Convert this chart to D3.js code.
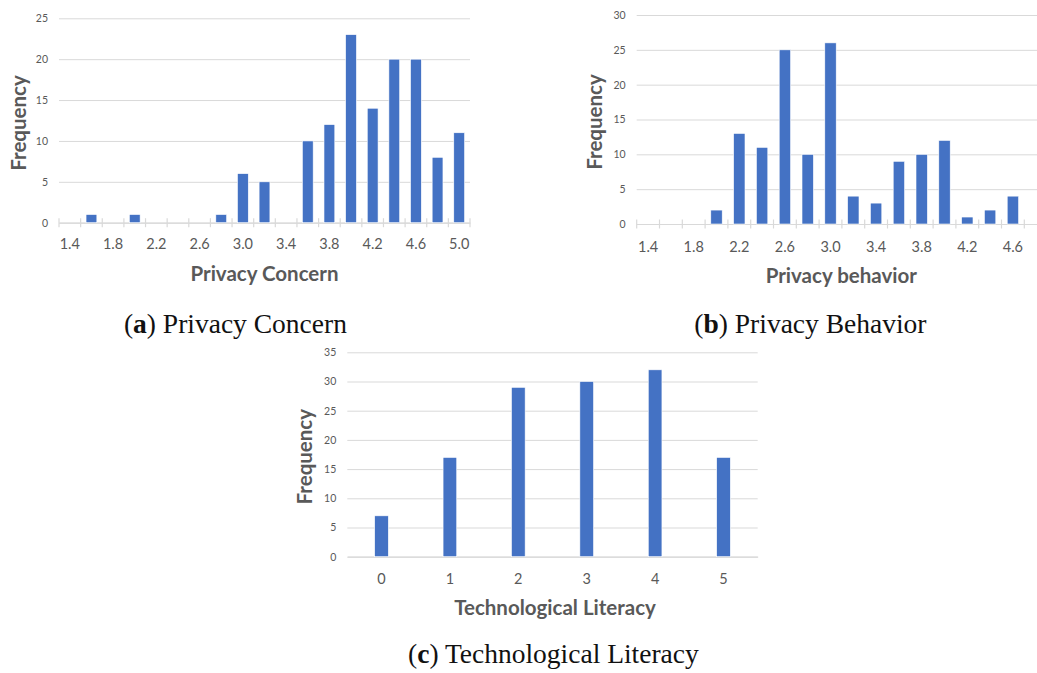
<!DOCTYPE html>
<html>
<head>
<meta charset="utf-8">
<script src="https://cdn.jsdelivr.net/npm/d3@7"></script>
<style>
  html, body { margin: 0; padding: 0; background: #fff; }
  svg { display: block; }
  .tick text { font-family: Lato, "Open Sans", sans-serif; fill: #595959; }
</style>
</head>
<body>
<svg id="chart" width="1037" height="673"></svg>
<script>
// Histogram bins and counts for each panel
const concernBins = ["1.4","1.6","1.8","2.0","2.2","2.4","2.6","2.8","3.0","3.2","3.4","3.6","3.8","4.0","4.2","4.4","4.6","4.8","5.0"];
const concernCounts = [0,1,0,1,0,0,0,1,6,5,0,10,12,23,14,20,20,8,11];
const concernTicks = [0,5,10,15,20,25];

const behaviorBins = ["1.4","1.6","1.8","2.0","2.2","2.4","2.6","2.8","3.0","3.2","3.4","3.6","3.8","4.0","4.2","4.4","4.6","4.8"];
const behaviorCounts = [0,0,0,2,13,11,25,10,26,4,3,9,10,12,1,2,4,0];
const behaviorTicks = [0,5,10,15,20,25,30];

const literacyBins = ["0","1","2","3","4","5"];
const literacyCounts = [7,17,29,30,32,17];
const literacyTicks = [0,5,10,15,20,25,30,35];

const svg = d3.select("#chart");
const BAR = "#4472C4";
const GRID = "#D9D9D9";
const TEXT = "#595959";

function panel(opts) {
  const { bins, counts, ticks, yMax, left, right, top, bottom,
          barFrac, binTicks, labelEvery, xTitle, titleX, titleY,
          freqX, freqY, xLabelY } = opts;

  const x = d3.scaleBand().domain(bins).range([left, right]).padding(0);
  const y = d3.scaleLinear().domain([0, yMax]).range([bottom, top]);
  const g = svg.append("g");

  // horizontal gridlines with value labels
  const yAxis = d3.axisLeft(y)
    .tickValues(ticks)
    .tickSizeInner(-(right - left))
    .tickSizeOuter(0)
    .tickPadding(11);
  const ya = g.append("g").attr("transform", `translate(${left},0)`).call(yAxis);
  ya.select(".domain").remove();
  ya.selectAll(".tick line").attr("stroke", GRID).attr("stroke-width", 1);
  ya.selectAll(".tick text").attr("font-size", 10.5);

  // category axis
  const xAxis = d3.axisBottom(x)
    .tickSize(0)
    .tickPadding(0)
    .tickFormat((d, i) => (i % labelEvery === 0 ? d : ""));
  const xa = g.append("g").attr("transform", `translate(0,${bottom})`).call(xAxis);
  xa.select(".domain").attr("stroke", GRID).attr("stroke-width", 1.2);
  xa.selectAll(".tick text")
    .attr("font-size", 14.5)
    .attr("dy", null)
    .attr("y", xLabelY - bottom)
    .attr("dominant-baseline", "central");

  if (binTicks) {
    const edges = bins.map(b => x(b)).concat([x.range()[1]]);
    g.append("g").selectAll("line").data(edges).join("line")
      .attr("x1", d => d).attr("x2", d => d)
      .attr("y1", bottom - 4.5).attr("y2", bottom + 4.5)
      .attr("stroke", GRID).attr("stroke-width", 1.2);
  }

  // bars
  const bw = x.bandwidth() * barFrac;
  g.append("g").selectAll("rect")
    .data(bins.map((b, i) => ({ b, v: counts[i] })).filter(d => d.v > 0))
    .join("rect")
    .attr("x", d => x(d.b) + (x.bandwidth() - bw) / 2)
    .attr("width", bw)
    .attr("y", d => y(d.v))
    .attr("height", d => y(0) - y(d.v))
    .attr("fill", BAR)
    .attr("stroke", "#ffffff")
    .attr("stroke-width", 0.6);

  // axis titles
  g.append("text")
    .attr("x", titleX).attr("y", titleY)
    .attr("text-anchor", "middle")
    .attr("dominant-baseline", "central")
    .attr("font-family", "Lato, 'Open Sans', sans-serif")
    .attr("font-weight", "bold")
    .attr("font-size", 20.5)
    .attr("fill", TEXT)
    .text(xTitle);

  g.append("text")
    .attr("transform", `translate(${freqX},${freqY}) rotate(-90)`)
    .attr("text-anchor", "middle")
    .attr("font-family", "Lato, 'Open Sans', sans-serif")
    .attr("font-weight", "bold")
    .attr("font-size", 20.5)
    .attr("fill", TEXT)
    .text("Frequency");
}

panel({
  bins: concernBins, counts: concernCounts, ticks: concernTicks, yMax: 25,
  left: 59, right: 470, top: 18.3, bottom: 222.7,
  barFrac: 0.5, binTicks: true, labelEvery: 2,
  xTitle: "Privacy Concern", titleX: 264.5, titleY: 272.7,
  freqX: 26, freqY: 123, xLabelY: 244
});

panel({
  bins: behaviorBins, counts: behaviorCounts, ticks: behaviorTicks, yMax: 30,
  left: 636.7, right: 636.7 + 22.8 * behaviorBins.length, top: 15, bottom: 224,
  barFrac: 0.5, binTicks: true, labelEvery: 2,
  xTitle: "Privacy behavior", titleX: 841.3, titleY: 275,
  freqX: 602, freqY: 122, xLabelY: 246
});

panel({
  bins: literacyBins, counts: literacyCounts, ticks: literacyTicks, yMax: 35,
  left: 347.3, right: 757.7, top: 352.3, bottom: 556.7,
  barFrac: 0.2, binTicks: false, labelEvery: 1,
  xTitle: "Technological Literacy", titleX: 555, titleY: 606.7,
  freqX: 312, freqY: 456.7, xLabelY: 578.3
});

// sub-figure captions
const captions = [
  { tag: "a", text: "Privacy Concern", x: 235.4, y: 333.3 },
  { tag: "b", text: "Privacy Behavior", x: 810.4, y: 333.3 },
  { tag: "c", text: "Technological Literacy", x: 553.4, y: 663.3 }
];
const cap = svg.append("g")
  .attr("font-family", "'Liberation Serif', 'DejaVu Serif', serif")
  .attr("font-size", 27.5)
  .attr("fill", "#111");
captions.forEach(c => {
  const t = cap.append("text").attr("x", c.x).attr("y", c.y).attr("text-anchor", "middle");
  t.append("tspan").text("(");
  t.append("tspan").attr("font-weight", "bold").text(c.tag);
  t.append("tspan").text(") " + c.text);
});
</script>
</body>
</html>
